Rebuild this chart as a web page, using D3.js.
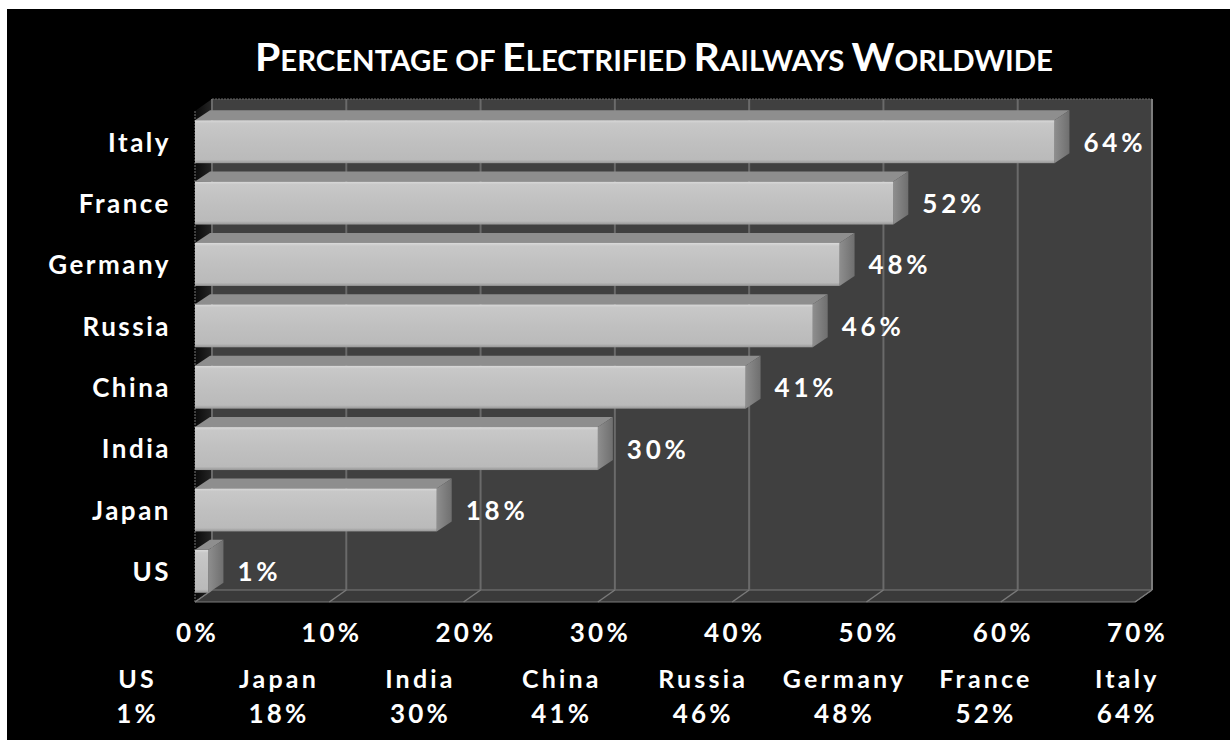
<!DOCTYPE html>
<html>
<head>
<meta charset="utf-8">
<script src="https://cdn.jsdelivr.net/npm/d3@7"></script>
<style>
  html, body { margin: 0; padding: 0; background: #ffffff; }
  svg { display: block; }
  text { font-family: "Lato", "DejaVu Sans", sans-serif; font-weight: 700; fill: #ffffff; }
</style>
</head>
<body>
<svg id="chart" width="1230" height="740"></svg>
<script>
// ---- data ----
const titleText = "Percentage of Electrified Railways Worldwide";
const categories = ["Italy", "France", "Germany", "Russia", "China", "India", "Japan", "US"];
const values = [64, 52, 48, 46, 41, 30, 18, 1];
const tickValues = [0, 10, 20, 30, 40, 50, 60, 70];
const tickLabels = ["0%", "10%", "20%", "30%", "40%", "50%", "60%", "70%"];
const tableNames = ["US", "Japan", "India", "China", "Russia", "Germany", "France", "Italy"];
const tableValues = [1, 18, 30, 41, 46, 48, 52, 64];

// ---- layout ----
const svg = d3.select("#chart");
const DX = 17, DY = -12;       // wall depth offset
const BDX = 15, BDY = -10;     // bar depth offset
const frontTop = 111, frontBottom = 602;

const x = d3.scaleLinear().domain([0, 70]).range([195, 1135]);
const y = d3.scaleBand().domain(categories).range([frontTop, frontBottom])
  .paddingInner(0.3).paddingOuter(0.15);
const col = d3.scaleBand().domain(tableNames).range([65, 1196]);

// defs
const defs = svg.append("defs");
const gFront = defs.append("linearGradient").attr("id", "gFront")
  .attr("x1", 0).attr("y1", 0).attr("x2", 0).attr("y2", 1);
[[0, "#dadada"], [0.07, "#c8c8c8"], [0.5, "#c0c0c0"], [0.92, "#bababa"], [1, "#979797"]]
  .forEach(([o, c]) => gFront.append("stop").attr("offset", o).attr("stop-color", c));
const gSide = defs.append("linearGradient").attr("id", "gSide")
  .attr("x1", 0).attr("y1", 0).attr("x2", 1).attr("y2", 0);
[[0, "#8e8e8e"], [1, "#6f6f6f"]]
  .forEach(([o, c]) => gSide.append("stop").attr("offset", o).attr("stop-color", c));
const gLeft = defs.append("linearGradient").attr("id", "gLeft")
  .attr("x1", 0).attr("y1", 0).attr("x2", 1).attr("y2", 0);
[[0, "#0a0a0a"], [1, "#262626"]]
  .forEach(([o, c]) => gLeft.append("stop").attr("offset", o).attr("stop-color", c));

// background
svg.append("rect").attr("x", 7).attr("y", 9).attr("width", 1223).attr("height", 731).attr("fill", "#000000");

// title with small caps (capitals large, lower-case letters as small capitals)
const title = svg.append("text")
  .attr("x", 654).attr("y", 71).attr("text-anchor", "middle")
  .attr("textLength", 798).attr("lengthAdjust", "spacingAndGlyphs");
let runs = [];
for (const ch of titleText) {
  const big = ch !== " " && ch === ch.toUpperCase();
  const last = runs[runs.length - 1];
  if (last && last.big === big) last.s += ch; else runs.push({ big, s: ch });
}
runs.forEach(r => {
  title.append("tspan").attr("font-size", r.big ? 39 : 28).text(r.s.toUpperCase());
});

// back wall
const x0 = x(0), x1 = x(70);
svg.append("rect")
  .attr("x", x0 + DX).attr("y", frontTop + DY)
  .attr("width", x1 - x0).attr("height", frontBottom - frontTop)
  .attr("fill", "#404040");
svg.append("line")
  .attr("x1", x0 + DX).attr("x2", x1 + DX).attr("y1", frontTop + DY).attr("y2", frontTop + DY)
  .attr("stroke", "#666").attr("stroke-width", 1).attr("stroke-dasharray", "2,1");

// left wall
svg.append("polygon")
  .attr("points", [[x0, frontTop], [x0 + DX, frontTop + DY], [x0 + DX, frontBottom + DY], [x0, frontBottom]].join(" "))
  .attr("fill", "url(#gLeft)");
svg.append("line")
  .attr("x1", x0).attr("x2", x0).attr("y1", frontTop).attr("y2", frontBottom)
  .attr("stroke", "#777").attr("stroke-width", 1).attr("stroke-dasharray", "2,1");

// floor
svg.append("polygon")
  .attr("points", [[x0, frontBottom], [x1, frontBottom], [x1 + DX, frontBottom + DY], [x0 + DX, frontBottom + DY]].join(" "))
  .attr("fill", "#3a3a3a").attr("stroke", "#7a7a7a").attr("stroke-width", 1);

// gridlines
const grid = svg.append("g");
grid.selectAll("line.v").data(tickValues).join("line").attr("class", "v")
  .attr("x1", d => x(d) + DX).attr("x2", d => x(d) + DX)
  .attr("y1", frontTop + DY).attr("y2", frontBottom + DY)
  .attr("stroke", d => d === 70 ? "#7c7c7c" : "#6a6a6a").attr("stroke-width", 2);
grid.selectAll("line.f").data(tickValues).join("line").attr("class", "f")
  .attr("x1", d => x(d) + DX).attr("x2", d => x(d))
  .attr("y1", frontBottom + DY).attr("y2", frontBottom)
  .attr("stroke", "#7a7a7a").attr("stroke-width", 1.5);

// bars
const bars = svg.append("g").selectAll("g").data(categories).join("g");
const bw = y.bandwidth();
bars.append("polygon") // top face
  .attr("points", (c, i) => {
    const t = y(c), xe = x(values[i]);
    return [[x0, t], [xe, t], [xe + BDX, t + BDY], [x0 + BDX, t + BDY]].join(" ");
  })
  .attr("fill", "#8e8e8e");
bars.append("polygon") // side face
  .attr("points", (c, i) => {
    const t = y(c), xe = x(values[i]);
    return [[xe, t], [xe + BDX, t + BDY], [xe + BDX, t + bw + BDY], [xe, t + bw]].join(" ");
  })
  .attr("fill", "url(#gSide)");
bars.append("rect") // front face
  .attr("x", x0).attr("y", c => y(c))
  .attr("width", (c, i) => x(values[i]) - x0).attr("height", bw)
  .attr("fill", "url(#gFront)");

// value labels
svg.append("g").selectAll("text").data(categories).join("text")
  .attr("x", (c, i) => x(values[i]) + BDX + 14)
  .attr("y", c => y(c) + bw / 2 + 10)
  .attr("font-size", 26).attr("letter-spacing", 3.8)
  .text((c, i) => values[i] + "%");

// left axis (categories)
const yAxis = svg.append("g").attr("transform", `translate(${x0 - 24},0)`)
  .call(d3.axisLeft(y).tickSize(0).tickPadding(0));
yAxis.select(".domain").remove();
yAxis.selectAll("text")
  .attr("font-size", 26).attr("letter-spacing", 2.5)
  .attr("font-family", null).attr("fill", "#ffffff")
  .attr("dy", "0.38em");

// bottom axis (percent)
const xAxis = svg.append("g").attr("transform", `translate(0,${frontBottom})`)
  .call(d3.axisBottom(x).tickValues(tickValues).tickFormat((d, i) => tickLabels[i]).tickSize(0).tickPadding(0));
xAxis.select(".domain").remove();
xAxis.selectAll("text")
  .attr("font-size", 26).attr("letter-spacing", 3.2)
  .attr("font-family", null).attr("fill", "#ffffff")
  .attr("x", 2).attr("y", 40).attr("dy", 0);

// bottom table
const table = svg.append("g");
table.selectAll("text.n").data(tableNames).join("text").attr("class", "n")
  .attr("x", d => col(d) + col.bandwidth() / 2 + 2).attr("y", 688)
  .attr("text-anchor", "middle").attr("font-size", 25).attr("letter-spacing", 3.2)
  .text(d => d);
table.selectAll("text.v").data(tableValues).join("text").attr("class", "v")
  .attr("x", (d, i) => col(tableNames[i]) + col.bandwidth() / 2 + 2).attr("y", 723)
  .attr("text-anchor", "middle").attr("font-size", 26).attr("letter-spacing", 3.2)
  .text(d => d + "%");
</script>
</body>
</html>
